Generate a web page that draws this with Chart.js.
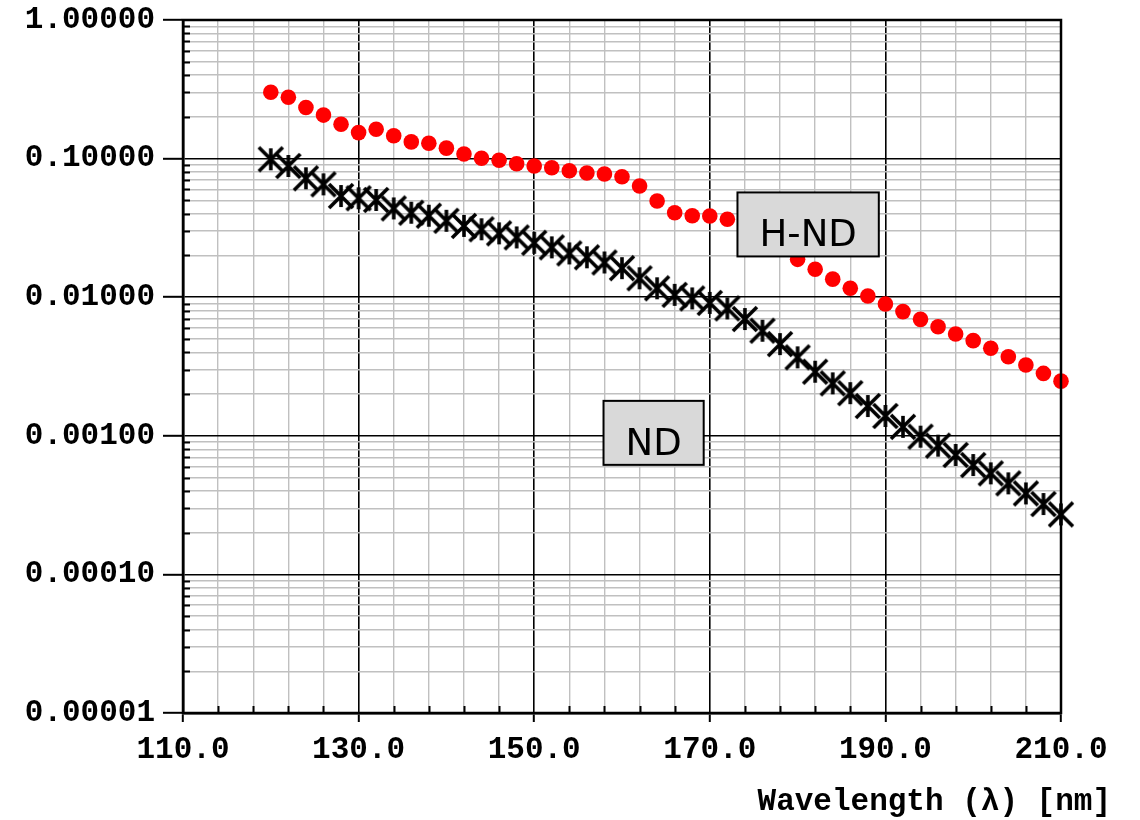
<!DOCTYPE html>
<html>
<head>
<meta charset="utf-8">
<title>Transmittance vs Wavelength</title>
<script src="https://cdn.jsdelivr.net/npm/chart.js@4/dist/chart.umd.min.js"></script>
<style>
  html, body { margin: 0; padding: 0; background: #ffffff; }
  #wrap { width: 1140px; height: 820px; position: relative; }
</style>
</head>
<body>
<div id="wrap"><canvas id="chart" width="1140" height="820"></canvas></div>
<script>
// Wavelength samples [nm]
const wavelengths = [
  120, 122, 124, 126, 128, 130, 132, 134, 136, 138,
  140, 142, 144, 146, 148, 150, 152, 154, 156, 158,
  160, 162, 164, 166, 168, 170, 172, 174, 176, 178,
  180, 182, 184, 186, 188, 190, 192, 194, 196, 198,
  200, 202, 204, 206, 208, 210
];

// H-ND filter transmittance
const hndValues = [
  0.301, 0.277, 0.234, 0.206, 0.177, 0.154, 0.163, 0.146, 0.132, 0.129,
  0.119, 0.108, 0.1005, 0.0972, 0.0919, 0.0885, 0.0860, 0.0818, 0.0788, 0.0775,
  0.0740, 0.0635, 0.0494, 0.0407, 0.0387, 0.0385, 0.0365, 0.0320, 0.0265, 0.0222,
  0.01876, 0.0159, 0.0135, 0.0116, 0.0102, 0.00893, 0.00787, 0.00692, 0.00612, 0.00543,
  0.00486, 0.00428, 0.00372, 0.00324, 0.00282, 0.00248
];

// ND filter transmittance
const ndValues = [
  0.0989, 0.0885, 0.0721, 0.0652, 0.0537, 0.0517, 0.0503, 0.0437, 0.0407, 0.0387,
  0.0356, 0.0327, 0.0309, 0.0289, 0.0270, 0.0247, 0.0229, 0.0207, 0.0194, 0.0178,
  0.0162, 0.0137, 0.0116, 0.0104, 0.0098, 0.0091, 0.0083, 0.00696, 0.00573, 0.00459,
  0.00368, 0.00290, 0.00239, 0.00203, 0.00164, 0.00139, 0.00116, 0.000986, 0.000849, 0.000727,
  0.000615, 0.000536, 0.000454, 0.000384, 0.000322, 0.000271
];

// Axis ticks
const xMajorTicks = [110, 130, 150, 170, 190, 210];
const xMinorStep = 4;
const yMajorTicks = [0.00001, 0.0001, 0.001, 0.01, 0.1, 1];

// Boxed series labels, anchored in data coordinates
const boxTexts = ['H-ND', 'ND'];
const boxX = [181.2, 163.6];
const boxY = [0.0335, 0.00105];

const xTitle = 'Wavelength (\u03bb) [nm]';

const monoFont = '"Liberation Mono", "Courier New", monospace';

function toPoints(xs, ys) {
  return xs.map((x, i) => ({ x: x, y: ys[i] }));
}

function isMajorY(v) {
  const l = Math.log10(v);
  return Math.abs(l - Math.round(l)) < 1e-9;
}
function isMajorX(v) {
  return xMajorTicks.some(t => Math.abs(t - v) < 1e-9);
}

// Asterisk-style marker: an X with a vertical bar
function makeStar(size, lw) {
  const c = document.createElement('canvas');
  c.width = size; c.height = size;
  const g = c.getContext('2d');
  g.strokeStyle = '#000000';
  g.lineWidth = lw;
  g.lineCap = 'butt';
  const a = 2, b = size - 2, m = size / 2;
  g.beginPath();
  g.moveTo(a, a); g.lineTo(b, b);
  g.moveTo(b, a); g.lineTo(a, b);
  g.moveTo(m, 3); g.lineTo(m, size - 3);
  g.stroke();
  return c;
}
const starMarker = makeStar(28, 3.6);

// Inward minor ticks, frame, x-axis title and boxed labels
const decorations = {
  id: 'decorations',
  afterDatasetsDraw(chart) {
    const ctx = chart.ctx;
    const area = chart.chartArea;
    const xs = chart.scales.x, ys = chart.scales.y;
    ctx.save();

    // inward minor tick marks
    ctx.strokeStyle = '#000000';
    ctx.lineWidth = 2;
    ctx.beginPath();
    ys.ticks.forEach(t => {
      if (isMajorY(t.value)) return;
      const py = Math.round(ys.getPixelForValue(t.value)) + 0.5;
      ctx.moveTo(area.left, py); ctx.lineTo(area.left + 7, py);
    });
    xs.ticks.forEach(t => {
      if (isMajorX(t.value)) return;
      const px = Math.round(xs.getPixelForValue(t.value)) + 0.5;
      ctx.moveTo(px, area.bottom); ctx.lineTo(px, area.bottom - 7);
    });
    ctx.stroke();

    // frame
    ctx.lineWidth = 2.5;
    ctx.strokeRect(area.left, area.top, area.right - area.left, area.bottom - area.top);

    // boxed labels
    ctx.font = '37px "DejaVu Sans", Verdana, sans-serif';
    ctx.textAlign = 'center';
    ctx.textBaseline = 'alphabetic';
    boxTexts.forEach((txt, i) => {
      const cx = xs.getPixelForValue(boxX[i]);
      const cy = ys.getPixelForValue(boxY[i]);
      const w = ctx.measureText(txt).width + 44;
      const h = 64;
      ctx.fillStyle = '#d9d9d9';
      ctx.fillRect(cx - w / 2, cy - h / 2, w, h);
      ctx.lineWidth = 2;
      ctx.strokeStyle = '#000000';
      ctx.strokeRect(cx - w / 2, cy - h / 2, w, h);
      ctx.fillStyle = '#000000';
      ctx.fillText(txt, cx, cy + h / 2 - 10);
    });

    // x-axis title, right aligned below the tick labels
    ctx.font = 'bold 31px ' + monoFont;
    ctx.textAlign = 'right';
    ctx.fillStyle = '#000000';
    ctx.fillText(xTitle, area.right + 50, 810);

    ctx.restore();
  }
};

const tickFont = { family: monoFont, size: 31, weight: 'bold' };

new Chart(document.getElementById('chart'), {
  type: 'scatter',
  data: {
    datasets: [
      {
        label: 'H-ND',
        data: toPoints(wavelengths, hndValues),
        pointStyle: 'circle',
        pointRadius: 7.8,
        pointHoverRadius: 7.8,
        pointBackgroundColor: '#ff0000',
        pointBorderWidth: 0,
        showLine: false,
        clip: false
      },
      {
        label: 'ND',
        data: toPoints(wavelengths, ndValues),
        pointStyle: starMarker,
        pointRadius: 13,
        showLine: false,
        clip: false
      }
    ]
  },
  options: {
    responsive: false,
    animation: false,
    events: [],
    layout: { padding: { left: 0, top: 20, right: 79, bottom: 0 } },
    plugins: {
      legend: { display: false },
      tooltip: { enabled: false },
      title: { display: false }
    },
    scales: {
      x: {
        type: 'linear',
        position: 'bottom',
        min: 110,
        max: 210,
        afterBuildTicks(scale) {
          const t = [];
          for (let v = xMajorTicks[0]; v <= xMajorTicks[xMajorTicks.length - 1] + 1e-9; v += xMinorStep) {
            t.push({ value: v });
          }
          scale.ticks = t;
        },
        afterFit(scale) {
          scale.height = 107;
          scale.paddingLeft = 0;
          scale.paddingRight = 0;
        },
        ticks: {
          autoSkip: false,
          maxRotation: 0,
          minRotation: 0,
          padding: 10,
          color: '#000000',
          font: tickFont,
          callback: (v) => isMajorX(v) ? Number(v).toFixed(1) : ''
        },
        grid: {
          color: (c) => isMajorX(c.tick.value) ? '#000000' : '#c0c0c0',
          lineWidth: (c) => isMajorX(c.tick.value) ? 1.6 : 1.4,
          tickColor: (c) => isMajorX(c.tick.value) ? '#000000' : 'rgba(0,0,0,0)',
          tickLength: 9,
          tickWidth: 2
        },
        border: { color: '#000000', width: 2.5 }
      },
      y: {
        type: 'logarithmic',
        position: 'left',
        min: yMajorTicks[0],
        max: yMajorTicks[yMajorTicks.length - 1],
        afterBuildTicks(scale) {
          const t = [];
          for (let d = 0; d < yMajorTicks.length; d++) {
            const base = yMajorTicks[d];
            t.push({ value: base });
            if (d < yMajorTicks.length - 1) {
              for (let k = 2; k <= 9; k++) t.push({ value: base * k });
            }
          }
          scale.ticks = t;
        },
        afterFit(scale) {
          scale.width = 183;
          scale.paddingTop = 0;
          scale.paddingBottom = 0;
        },
        ticks: {
          autoSkip: false,
          padding: 8,
          color: '#000000',
          font: tickFont,
          callback: (v) => isMajorY(v) ? Number(v).toFixed(5) : ''
        },
        grid: {
          color: (c) => isMajorY(c.tick.value) ? '#000000' : '#c0c0c0',
          lineWidth: (c) => isMajorY(c.tick.value) ? 1.6 : 1.4,
          tickColor: (c) => isMajorY(c.tick.value) ? '#000000' : 'rgba(0,0,0,0)',
          tickLength: 20,
          tickWidth: 2
        },
        border: { color: '#000000', width: 2.5 }
      }
    }
  },
  plugins: [decorations]
});
</script>
</body>
</html>
